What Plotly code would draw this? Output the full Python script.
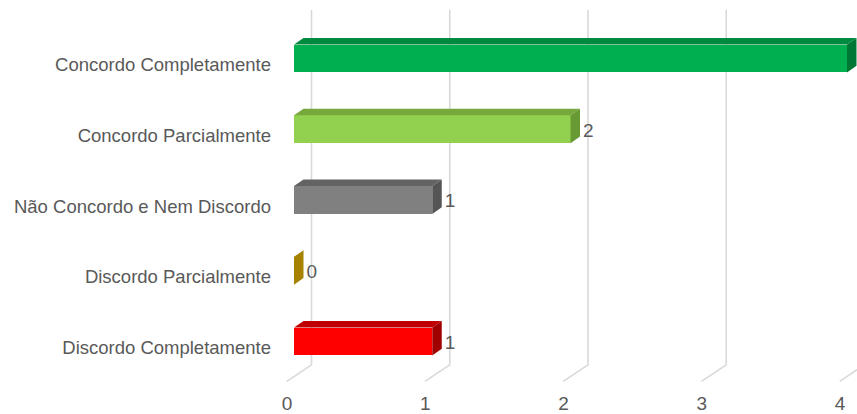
import plotly.graph_objects as go

# ---- data ----
categories = ["Discordo Completamente", "Discordo Parcialmente",
              "Não Concordo e Nem Discordo", "Concordo Parcialmente",
              "Concordo Completamente"]
values = [1, 0, 1, 2, 4]
x_ticks = [0, 1, 2, 3, 4]

front_colors = ["#FF0000", "#A68200", "#808080", "#92D050", "#00B050"]
top_colors = ["#C00000", "#8A6C00", "#636363", "#76A83C", "#008A3E"]
side_colors = ["#A00000", "#A68200", "#555555", "#689A34", "#007833"]

# ---- geometry (pixel -> data conversion) ----
W, H = 857, 414
ML, MB = 280, 22
px_x = 138.25          # pixels per value unit
px_y = 71.125          # pixels per category
x0 = -14 / px_x
x1 = x0 + (W - ML) / px_x
ytop = 4 + 58.8 / px_y
ybot = ytop - (H - MB) / px_y

bar_h = 28 / px_y
dx = 9.5 / px_x
dy = 6.7 / px_y

fig = go.Figure()

# gridlines (back wall + floor diagonal)
gx_back = 17.5 / px_x
gx_front = -7.3 / px_x
g_top = ytop - 10 / px_y
g_back = ytop - 366.7 / px_y
g_front = ytop - 383.3 / px_y
for t in x_ticks:
    fig.add_shape(type="path",
                  path=f"M {t+gx_front} {g_front} L {t+gx_back} {g_back} L {t+gx_back} {g_top}",
                  xref="x", yref="y", layer="below",
                  line=dict(color="#D9D9D9", width=1.6))

ypos = list(range(len(categories)))

# front faces
fig.add_trace(go.Bar(
    x=values, y=ypos, orientation="h", base=0, width=bar_h,
    marker=dict(color=front_colors, line=dict(width=0)),
    hoverinfo="skip", showlegend=False))

# top and side faces
for i, v in enumerate(values):
    yt = i + bar_h / 2
    yb = i - bar_h / 2
    if v > 0:
        fig.add_trace(go.Scatter(
            x=[0, v, v + dx, dx, 0], y=[yt, yt, yt + dy, yt + dy, yt],
            fill="toself", fillcolor=top_colors[i], mode="lines",
            line=dict(width=0, color=top_colors[i]),
            hoverinfo="skip", showlegend=False))
    fig.add_trace(go.Scatter(
        x=[v, v + dx, v + dx, v, v], y=[yb, yb + dy, yt + dy, yt, yb],
        fill="toself", fillcolor=side_colors[i], mode="lines",
        line=dict(width=0, color=side_colors[i]),
        hoverinfo="skip", showlegend=False))

# value labels (the one falling past the right edge is not visible in the chart)
lab_dx = 12.5 / px_x
lab_dy = -2.5 / px_y
lab_x = [v + lab_dx for v in values]
lab_text = [str(v) if xx + 8 / px_x < x1 else "" for v, xx in zip(values, lab_x)]
fig.add_trace(go.Scatter(
    x=lab_x, y=[p + lab_dy for p in ypos], mode="text",
    text=lab_text, textposition="middle right",
    textfont=dict(family="Liberation Sans, Arial", size=19, color="#595959"),
    cliponaxis=True, hoverinfo="skip", showlegend=False))

fig.update_layout(
    width=W, height=H,
    margin=dict(l=ML, r=0, t=0, b=MB, pad=0),
    plot_bgcolor="white", paper_bgcolor="white",
    font=dict(family="Liberation Sans, Arial", color="#595959"),
    xaxis=dict(range=[x0, x1], tickvals=x_ticks, ticktext=[str(t) for t in x_ticks],
               showgrid=False, zeroline=False, showline=False, ticks="",
               tickfont=dict(size=19, color="#595959"),
               ticklabelshift=-7, fixedrange=True),
    yaxis=dict(range=[ybot, ytop], tickvals=ypos, ticktext=categories,
               showgrid=False, zeroline=False, showline=False, ticks="",
               tickfont=dict(size=18.5, color="#595959"),
               ticklabelshift=6, ticklabelstandoff=8, fixedrange=True),
    bargap=0, showlegend=False,
)

fig.write_html("out.html")
